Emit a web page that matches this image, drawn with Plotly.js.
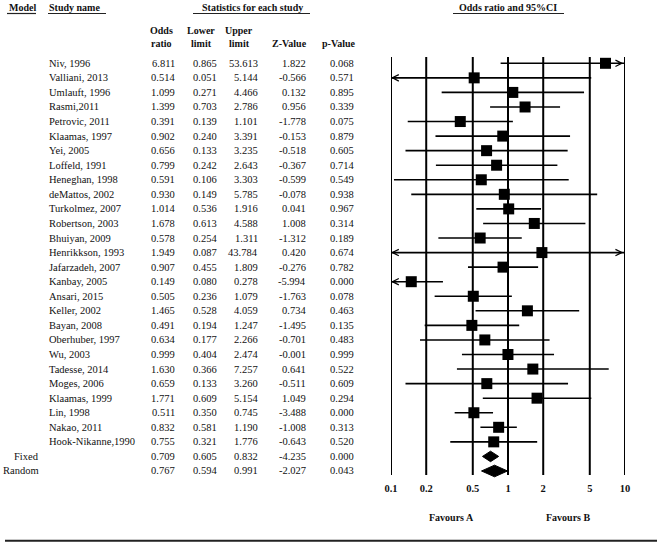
<!DOCTYPE html>
<html>
<head>
<meta charset="utf-8">
<script src="https://cdn.plot.ly/plotly-3.0.1.min.js"></script>
<style>html,body{margin:0;padding:0;background:#fff}#chart{width:660px;height:544px}</style>
</head>
<body>
<div id="chart"></div>
<script>
// ---- data ----
const studies = ["Niv, 1996","Valliani, 2013","Umlauft, 1996","Rasmi,2011","Petrovic, 2011","Klaamas, 1997","Yei, 2005","Loffeld, 1991","Heneghan, 1998","deMattos, 2002","Turkolmez, 2007","Robertson, 2003","Bhuiyan, 2009","Henrikkson, 1993","Jafarzadeh, 2007","Kanbay, 2005","Ansari, 2015","Keller, 2002","Bayan, 2008","Oberhuber, 1997","Wu, 2003","Tadesse, 2014","Moges, 2006","Klaamas, 1999","Lin, 1998","Nakao, 2011","Hook-Nikanne,1990"];
const oddsRatio = [6.811,0.514,1.099,1.399,0.391,0.902,0.656,0.799,0.591,0.930,1.014,1.678,0.578,1.949,0.907,0.149,0.505,1.465,0.491,0.634,0.999,1.630,0.659,1.771,0.511,0.832,0.755];
const lowerLimit = [0.865,0.051,0.271,0.703,0.139,0.240,0.133,0.242,0.106,0.149,0.536,0.613,0.254,0.087,0.455,0.080,0.236,0.528,0.194,0.177,0.404,0.366,0.133,0.609,0.350,0.581,0.321];
const upperLimit = [53.613,5.144,4.466,2.786,1.101,3.391,3.235,2.643,3.303,5.785,1.916,4.588,1.311,43.784,1.809,0.278,1.079,4.059,1.247,2.266,2.474,7.257,3.260,5.154,0.745,1.190,1.776];
const zValue = [1.822,-0.566,0.132,0.956,-1.778,-0.153,-0.518,-0.367,-0.599,-0.078,0.041,1.008,-1.312,0.420,-0.276,-5.994,-1.763,0.734,-1.495,-0.701,-0.001,0.641,-0.511,1.049,-3.488,-1.008,-0.643];
const pValue = [0.068,0.571,0.895,0.339,0.075,0.879,0.605,0.714,0.549,0.938,0.967,0.314,0.189,0.674,0.782,0.000,0.078,0.463,0.135,0.483,0.999,0.522,0.609,0.294,0.000,0.313,0.520];

const models = ["Fixed","Random"];
const modelOR = [0.709,0.767];
const modelLower = [0.605,0.594];
const modelUpper = [0.832,0.991];
const modelZ = [-4.235,-2.027];
const modelP = [0.000,0.043];

const tickValues = [0.1,0.2,0.5,1,2,5,10];
const tickLabels = ["0.1","0.2","0.5","1","2","5","10"];
const colHeaders = [["Odds","ratio"],["Lower","limit"],["Upper","limit"],["","Z-Value"],["","p-Value"]];

// ---- layout constants ----
const W = 660, H = 544;
const rowY0 = 63.3, rowDy = 14.56;
const xMin = 0.1, xMax = 10;
const serif = "Liberation Serif, Times New Roman, serif";
const fs = 10.5;
const px = v => v / W;
const py = v => 1 - v / H;

const traces = [];
const annotations = [];
const shapes = [];

// vertical reference lines
const lineTop = (57 - rowY0) / rowDy, lineBot = (475 - rowY0) / rowDy;
tickValues.forEach(v => {
  traces.push({x:[v,v], y:[lineTop,lineBot], mode:'lines', line:{color:'#000', width:2}, hoverinfo:'skip'});
});

// study CI lines + squares
studies.forEach((s, i) => {
  const lo = Math.max(lowerLimit[i], xMin), hi = Math.min(upperLimit[i], xMax);
  traces.push({x:[lo,hi], y:[i,i], mode:'lines', line:{color:'#000', width:1.6}, hoverinfo:'skip'});
  if (lowerLimit[i] < xMin) {
    annotations.push({x:Math.log10(xMin), y:i, xref:'x', yref:'y', showarrow:true, ax:7, ay:0,
      arrowhead:5, arrowsize:0.9, arrowwidth:1.4, arrowcolor:'#000', text:''});
  }
  if (upperLimit[i] > xMax) {
    annotations.push({x:Math.log10(xMax) - 0.015, y:i, xref:'x', yref:'y', showarrow:true, ax:-7, ay:0,
      arrowhead:5, arrowsize:0.9, arrowwidth:1.4, arrowcolor:'#000', text:''});
  }
});
traces.push({x:oddsRatio, y:studies.map((s,i)=>i), mode:'markers',
  marker:{symbol:'square', size:11, color:'#000'}, hoverinfo:'skip'});

// pooled diamonds
const dh = [0.36, 0.4];
models.forEach((m, k) => {
  const r = studies.length + k;
  traces.push({x:[modelLower[k], modelOR[k], modelUpper[k], modelOR[k], modelLower[k]],
    y:[r, r - dh[k], r, r + dh[k], r], mode:'lines', fill:'toself', fillcolor:'#000',
    line:{color:'#000', width:1}, hoverinfo:'skip'});
});

// table text
const colRight = [177, 219, 260, 308, 356];
function addRow(r, label, labelX, labelAnchor, vals) {
  annotations.push({x:px(labelX), y:r, xref:'paper', yref:'y', text:label, showarrow:false,
    xanchor:labelAnchor, font:{family:serif, size:fs, color:'#111'}});
  vals.forEach((v, c) => {
    annotations.push({x:px(colRight[c]), y:r, xref:'paper', yref:'y', text:v.toFixed(3), showarrow:false,
      xanchor:'right', font:{family:serif, size:fs, color:'#111'}});
  });
}
studies.forEach((s, i) => addRow(i, s, 47, 'left', [oddsRatio[i], lowerLimit[i], upperLimit[i], zValue[i], pValue[i]]));
models.forEach((m, k) => addRow(studies.length + k, m, 41, 'right', [modelOR[k], modelLower[k], modelUpper[k], modelZ[k], modelP[k]]));

// headers
const bold = {family:serif, size:10, color:'#111', weight:'bold'};
function hdr(text, x, y, anchor) {
  annotations.push({x:px(x), y:py(y), xref:'paper', yref:'paper', text:text, showarrow:false,
    xanchor:anchor || 'center', yanchor:'middle', font:bold});
}
hdr("Model", 7, 7.5, 'left');
hdr("Study name", 47, 7.5, 'left');
hdr("Statistics for each study", 252, 7.5);
hdr("Odds ratio and 95%CI", 508, 7.5);
const colCenters = [161, 201, 239, 289, 338.5];
colHeaders.forEach((h, c) => {
  if (h[0]) hdr(h[0], colCenters[c], 30.5);
  hdr(h[1], colCenters[c], 43.5);
});
hdr("Favours A", 451, 517);
hdr("Favours B", 568, 517);

// header underlines
[[7,36],[48,106],[193,310],[453,564]].forEach(([a,b]) => {
  shapes.push({type:'line', xref:'paper', yref:'paper', x0:px(a), x1:px(b), y0:py(13.5), y1:py(13.5),
    line:{color:'#222', width:1.2}});
});
// bottom rule
shapes.push({type:'line', xref:'paper', yref:'paper', x0:px(5), x1:px(657), y0:py(540.7), y1:py(540.7),
  line:{color:'#222', width:2}});

const layout = {
  width:W, height:H, margin:{l:0, r:0, t:0, b:0}, showlegend:false,
  paper_bgcolor:'#fff', plot_bgcolor:'rgba(0,0,0,0)',
  xaxis:{type:'log', range:[Math.log10(xMin), Math.log10(xMax)], domain:[px(391), px(625)],
    anchor:'free', position:(H - 480) / H, showgrid:false, zeroline:false, showline:false,
    ticks:'', tickmode:'array', tickvals:tickValues, ticktext:tickLabels,
    tickfont:{family:serif, size:10.5, color:'#111', weight:'bold'}, fixedrange:true},
  yaxis:{range:[(H - rowY0) / rowDy, -rowY0 / rowDy], domain:[0,1], showgrid:false, zeroline:false,
    showline:false, showticklabels:false, ticks:'', fixedrange:true},
  annotations:annotations, shapes:shapes
};
Plotly.newPlot('chart', traces, layout, {staticPlot:true, displayModeBar:false});
</script>
</body>
</html>
